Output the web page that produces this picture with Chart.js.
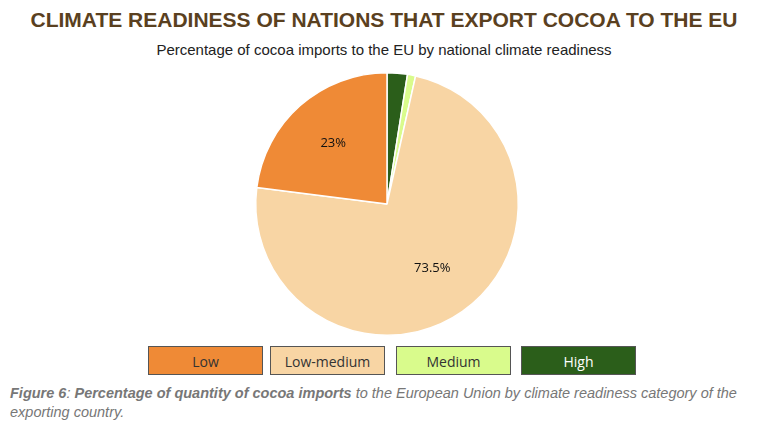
<!DOCTYPE html>
<html>
<head>
<meta charset="utf-8">
<script src="https://cdn.jsdelivr.net/npm/chart.js@4.5.0"></script>
<style>
body { margin:0; width:768px; height:436px; background:#fff; font-family:"Open Sans", Arial, sans-serif; position:relative; overflow:hidden; }
#title { position:absolute; top:8px; left:0; width:768px; text-align:center; font-family:"Liberation Sans", Arial, sans-serif; font-weight:bold; font-size:21px; color:#5a4020; }
#sub { position:absolute; top:41px; left:0; width:768px; text-align:center; font-family:"Liberation Sans", Arial, sans-serif; font-size:15px; color:#222; }
#wrap { position:absolute; left:237px; top:68px; width:300px; height:272px; }
.lg { position:absolute; top:346px; width:113px; height:27px; border:1px solid #555; text-align:center; line-height:29px; font-size:14px; color:#333; }
#cap { position:absolute; top:384px; left:10px; width:750px; font-family:"Liberation Sans", Arial, sans-serif; font-style:italic; font-size:14.5px; color:#777; line-height:19px; }
</style>
</head>
<body>
<div id="title">CLIMATE READINESS OF NATIONS THAT EXPORT COCOA TO THE EU</div>
<div id="sub">Percentage of cocoa imports to the EU by national climate readiness</div>
<div id="wrap"><canvas id="pie"></canvas></div>
<div id="legend"></div>
<div id="cap"><b>Figure 6</b>: <b>Percentage of quantity of cocoa imports</b> to the European Union by climate readiness category of the exporting country.</div>
<script>
// slice order clockwise from 12 o'clock
const categories = ["High", "Medium", "Low-medium", "Low"];
const shares = [2.5, 1, 73.5, 23];
const sliceLabels = ["", "", "73.5%", "23%"];
const colors = ["#2b5e1a", "#d9fb8c", "#f8d5a4", "#ef8a36"];

const legendOrder = ["Low", "Low-medium", "Medium", "High"];
const legendLeft = [148, 270, 396, 521];
const legendEl = document.getElementById('legend');
legendOrder.forEach((name, i) => {
    const d = document.createElement('div');
    d.className = 'lg';
    d.style.left = legendLeft[i] + 'px';
    d.style.background = colors[categories.indexOf(name)];
    d.style.color = name === 'High' ? '#fff' : '#333';
    d.textContent = name;
    legendEl.appendChild(d);
});

const sliceText = {
    id: 'sliceText',
    afterDatasetsDraw(chart) {
        const ctx = chart.ctx;
        chart.getDatasetMeta(0).data.forEach((arc, i) => {
            if (!sliceLabels[i]) return;
            const mid = (arc.startAngle + arc.endAngle) / 2;
            const r = arc.outerRadius * (i === 3 ? 0.62 : 0.6);
            ctx.save();
            ctx.fillStyle = '#111';
            ctx.font = '13px "Open Sans", Arial';
            ctx.textAlign = 'center';
            ctx.textBaseline = 'middle';
            ctx.fillText(sliceLabels[i], arc.x + Math.cos(mid) * r, arc.y + Math.sin(mid) * r);
            ctx.restore();
        });
    }
};

new Chart(document.getElementById('pie'), {
    type: 'pie',
    data: {
        labels: categories,
        datasets: [{ data: shares, backgroundColor: colors, borderColor: '#fff', borderWidth: 1.5 }]
    },
    options: {
        responsive: true,
        maintainAspectRatio: false,
        animation: false,
        layout: { padding: 4 },
        plugins: { legend: { display: false }, tooltip: { enabled: false } }
    },
    plugins: [sliceText]
});
</script>
</body>
</html>
